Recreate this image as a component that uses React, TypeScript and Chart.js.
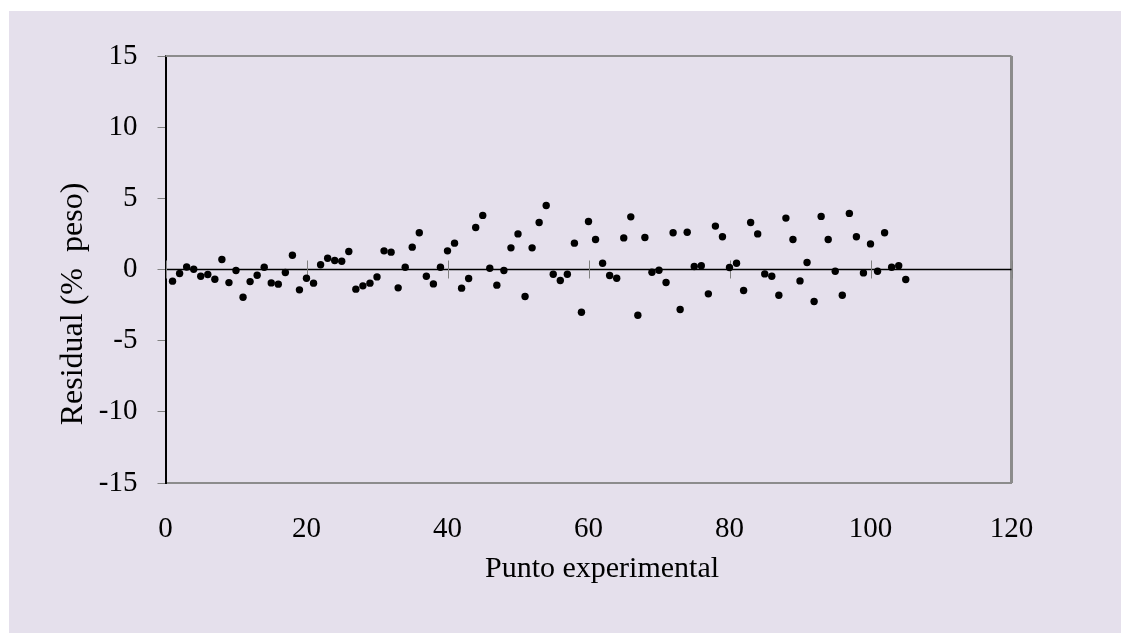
import { useEffect, useRef } from "react";
import { Chart, registerables } from "chart.js";

Chart.register(...registerables);

const residuals: number[] = [
  -0.82, -0.28, 0.18, 0.02, -0.47, -0.35, -0.68, 0.70, -0.92, -0.07,
  -1.95, -0.85, -0.40, 0.16, -0.94, -1.03, -0.21, 1.00, -1.43, -0.61,
  -0.96, 0.33, 0.79, 0.63, 0.58, 1.26, -1.38, -1.15, -0.96, -0.52,
  1.31, 1.22, -1.29, 0.16, 1.57, 2.58, -0.47, -1.01, 0.16, 1.31,
  1.85, -1.31, -0.63, 2.95, 3.80, 0.09, -1.10, -0.07, 1.52, 2.50,
  -1.90, 1.52, 3.30, 4.50, -0.33, -0.77, -0.33, 1.85, -3.00, 3.37,
  2.11, 0.44, -0.42, -0.61, 2.22, 3.70, -3.21, 2.25, -0.19, -0.05,
  -0.91, 2.58, -2.81, 2.62, 0.21, 0.26, -1.71, 3.05, 2.30, 0.14,
  0.44, -1.48, 3.30, 2.50, -0.31, -0.47, -1.81, 3.61, 2.11, -0.80,
  0.49, -2.25, 3.73, 2.11, -0.12, -1.81, 3.94, 2.30, -0.24, 1.80,
  -0.12, 2.58, 0.16, 0.26, -0.70,
];

const xTicks: number[] = [0, 20, 40, 60, 80, 100, 120];
const yTicks: number[] = [-15, -10, -5, 0, 5, 10, 15];
const xTitle = "Punto experimental";
const yTitle = "Residual (%  peso)";

const FONT = "'Liberation Serif', 'Times New Roman', serif";

const decorPlugin = {
  id: "decor",
  beforeDatasetsDraw(chart: any) {
    const { ctx, chartArea, scales } = chart;
    const { left, right, top, bottom } = chartArea;
    const y0 = scales.y.getPixelForValue(0);
    ctx.save();
    ctx.strokeStyle = "#8c8c8c";
    ctx.lineWidth = 2;
    ctx.beginPath();
    ctx.moveTo(left, top);
    ctx.lineTo(right, top);
    ctx.stroke();
    ctx.lineWidth = 3;
    ctx.beginPath();
    ctx.moveTo(right, top);
    ctx.lineTo(right, bottom);
    ctx.stroke();
    ctx.strokeStyle = "#000000";
    ctx.lineWidth = 1.5;
    ctx.beginPath();
    ctx.moveTo(left, y0);
    ctx.lineTo(right, y0);
    ctx.stroke();
    ctx.strokeStyle = "#808080";
    ctx.lineWidth = 1;
    xTicks.forEach((v) => {
      const px = Math.round(scales.x.getPixelForValue(v)) + 0.5;
      ctx.beginPath();
      ctx.moveTo(px, y0 - 9);
      ctx.lineTo(px, y0 + 9);
      ctx.stroke();
    });
    ctx.restore();
  },
  afterDraw(chart: any) {
    const { ctx } = chart;
    ctx.save();
    ctx.fillStyle = "#000000";
    ctx.textAlign = "center";
    ctx.textBaseline = "middle";
    ctx.font = `30px ${FONT}`;
    ctx.fillText(xTitle, 602, 569);
    ctx.font = `32px ${FONT}`;
    ctx.translate(74, 304);
    ctx.rotate(-Math.PI / 2);
    ctx.fillText(yTitle, 0, 0);
    ctx.restore();
  },
};

function ResidualChart() {
  const ref = useRef<HTMLCanvasElement | null>(null);
  useEffect(() => {
    if (!ref.current) return;
    const chart = new Chart(ref.current, {
      type: "scatter",
      data: {
        datasets: [
          {
            label: "Residual",
            data: residuals.map((y, i) => ({ x: i + 1, y })),
            backgroundColor: "#000000",
            borderColor: "#000000",
            pointRadius: 3.7,
            pointHoverRadius: 3.7,
            borderWidth: 0,
          },
        ],
      },
      options: {
        animation: false,
        responsive: false,
        devicePixelRatio: 1,
        layout: { padding: { left: 0, top: 56, right: 109.5, bottom: 0 } },
        plugins: {
          legend: { display: false },
          tooltip: { enabled: false },
          title: { display: false },
        },
        scales: {
          x: {
            type: "linear",
            min: 0,
            max: 120,
            afterBuildTicks: (scale: any) => {
              scale.ticks = xTicks.map((v) => ({ value: v }));
            },
            afterFit: (scale: any) => {
              scale.height = 150;
            },
            grid: { display: false, drawTicks: false },
            border: { display: true, color: "#8c8c8c", width: 2 },
            ticks: {
              color: "#000000",
              font: { family: FONT, size: 29 },
              padding: 29,
              maxRotation: 0,
            },
          },
          y: {
            type: "linear",
            min: -15,
            max: 15,
            afterBuildTicks: (scale: any) => {
              scale.ticks = yTicks.map((v) => ({ value: v }));
            },
            afterFit: (scale: any) => {
              scale.width = 165.5;
            },
            grid: {
              display: true,
              drawOnChartArea: false,
              drawTicks: true,
              tickLength: 8,
              color: "#808080",
            },
            border: { display: true, color: "#000000", width: 2 },
            ticks: {
              color: "#000000",
              font: { family: FONT, size: 29 },
              padding: 20,
            },
          },
        },
      },
      plugins: [decorPlugin],
    });
    return () => chart.destroy();
  }, []);
  return (
    <canvas
      ref={ref}
      width={1121}
      height={633}
      style={{ position: "absolute", left: 0, top: 0, width: 1121, height: 633 }}
    />
  );
}

export default function App() {
  return (
    <div
      style={{
        position: "absolute",
        left: 0,
        top: 0,
        width: 1121,
        height: 633,
        background: "#ffffff",
        overflow: "hidden",
      }}
    >
      <div
        style={{
          position: "absolute",
          left: 9,
          top: 11,
          right: 0,
          bottom: 0,
          background: "#E5E0EC",
        }}
      />
      <ResidualChart />
    </div>
  );
}
